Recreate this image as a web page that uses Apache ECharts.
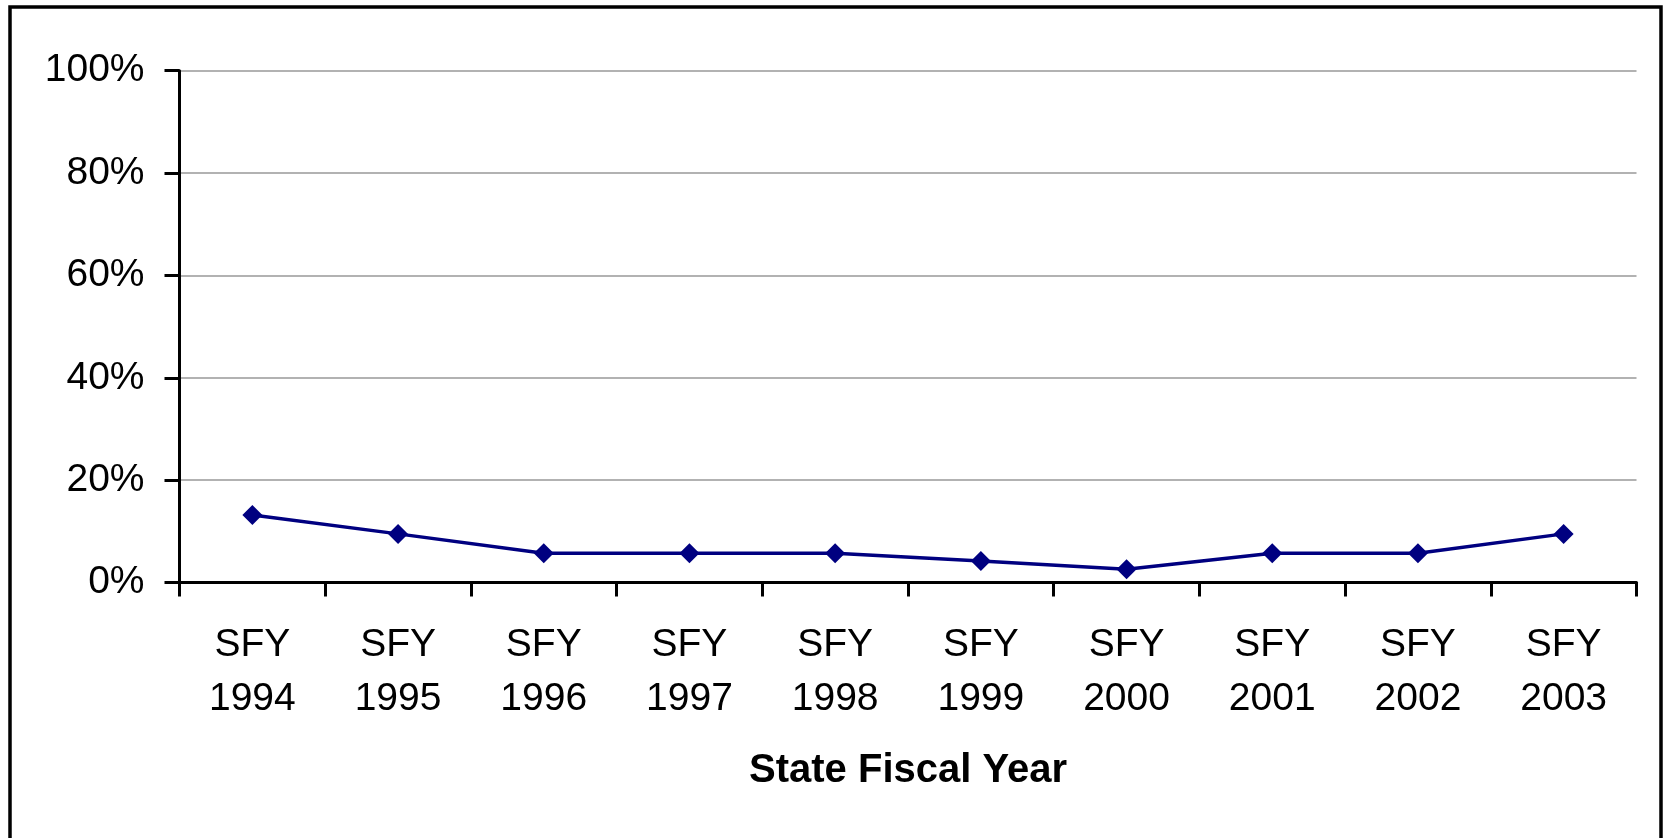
<!DOCTYPE html>
<html>
<head>
<meta charset="utf-8">
<script src="https://cdn.jsdelivr.net/npm/echarts@6/dist/echarts.min.js"></script>
<style>
html,body{margin:0;padding:0;background:#fff;}
#chart{width:1667px;height:838px;}
</style>
</head>
<body>
<div id="chart"></div>
<script>
var categories = ['SFY\n1994','SFY\n1995','SFY\n1996','SFY\n1997','SFY\n1998','SFY\n1999','SFY\n2000','SFY\n2001','SFY\n2002','SFY\n2003'];
var values = [13.2, 9.5, 5.7, 5.7, 5.7, 4.2, 2.6, 5.7, 5.7, 9.5];
var xAxisTitle = 'State Fiscal Year';

var font = 'Liberation Sans, Arial, Helvetica, sans-serif';
var chart = echarts.init(document.getElementById('chart'));
chart.setOption({
  animation: false,
  backgroundColor: '#ffffff',
  graphic: [{
    type: 'rect',
    shape: {x: 10, y: 7, width: 1651, height: 900},
    style: {fill: 'none', stroke: '#000', lineWidth: 3.5},
    z: 100
  }],
  grid: {left: 179.5, right: 30.5, top: 70.7, bottom: 255.5},
  xAxis: {
    type: 'category',
    data: categories,
    boundaryGap: true,
    axisLine: {lineStyle: {color: '#000', width: 3}},
    axisTick: {show: true, length: 14, lineStyle: {color: '#000', width: 3}},
    axisLabel: {color: '#000', fontFamily: font, fontSize: 39, lineHeight: 54, margin: 36, interval: 0},
    name: xAxisTitle,
    nameLocation: 'middle',
    nameGap: 168,
    nameTextStyle: {color: '#000', fontFamily: font, fontSize: 40, fontWeight: 'bold', lineHeight: 40}
  },
  yAxis: {
    type: 'value',
    min: 0, max: 100, interval: 20,
    axisLine: {show: true, lineStyle: {color: '#000', width: 3}},
    axisTick: {show: true, length: 15, lineStyle: {color: '#000', width: 3}},
    axisLabel: {color: '#000', fontFamily: font, fontSize: 39, margin: 35, formatter: '{value}%'},
    splitLine: {show: true, lineStyle: {color: '#999', width: 1.5}}
  },
  series: [{
    type: 'line',
    data: values,
    symbol: 'diamond',
    symbolSize: 20,
    lineStyle: {color: '#000080', width: 3.5},
    itemStyle: {color: '#000080'},
    z: 5
  }]
});
</script>
</body>
</html>
